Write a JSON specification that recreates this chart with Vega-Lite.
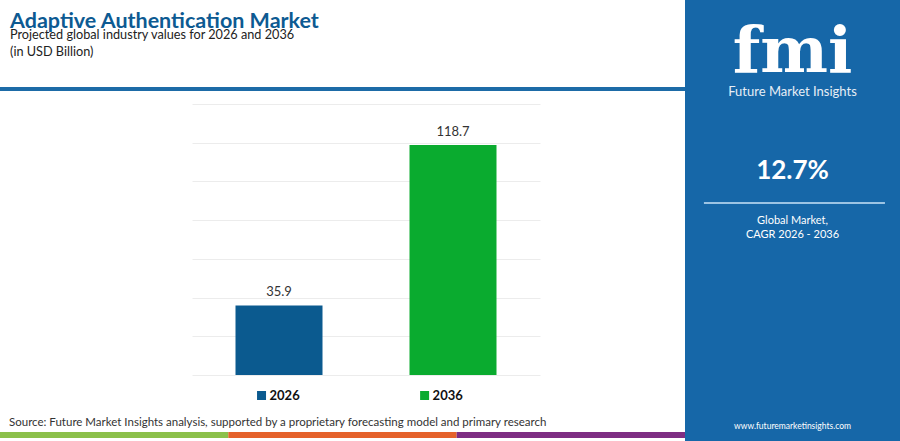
{
  "$schema": "https://vega.github.io/schema/vega-lite/v6.json",
  "padding": 0,
  "background": "#ffffff",
  "spacing": 0,
  "config": {"view": {"stroke": null}, "font": "Lato"},
  "datasets": {
    "market": [
      {"year": "2026", "value": 35.9},
      {"year": "2036", "value": 118.7}
    ],
    "stripe": [{"segment": "left"}, {"segment": "middle"}, {"segment": "right"}],
    "blank": []
  },
  "resolve": {"scale": {"color": "independent"}},
  "hconcat": [
    {
      "spacing": 0,
      "resolve": {"scale": {"color": "independent"}},
      "vconcat": [
        {
          "width": 685,
          "height": 10,
          "data": {"name": "blank"},
          "mark": "text",
          "encoding": {"text": {"field": "label"}}
        },
        {
          "width": 685,
          "height": 4,
          "view": {"fill": "#1d6ba7"},
          "title": {
            "text": "Adaptive Authentication Market",
            "subtitle": ["Projected global industry values for 2026 and 2036", "(in USD Billion)"],
            "anchor": "start",
            "dx": 10,
            "font": "Lato",
            "fontSize": 21.5,
            "fontWeight": "bold",
            "color": "#0d5a92",
            "subtitleFont": "Lato",
            "subtitleFontSize": 12.7,
            "subtitleColor": "#222222",
            "subtitlePadding": -3,
            "subtitleLineHeight": 17,
            "offset": 28
          },
          "data": {"name": "blank"},
          "mark": "text",
          "encoding": {"text": {"field": "label"}}
        },
        {
          "spacing": 0,
          "hconcat": [
            {
              "width": 192,
              "height": 284,
              "data": {"name": "blank"},
              "mark": "text",
              "encoding": {"text": {"field": "label"}}
            },
            {
              "width": 348,
              "height": 284,
              "data": {"name": "market"},
              "encoding": {
                "x": {
                  "field": "year",
                  "type": "nominal",
                  "scale": {"paddingInner": 0.5, "paddingOuter": 0.25},
                  "axis": null
                },
                "y": {
                  "field": "value",
                  "type": "quantitative",
                  "scale": {"domain": [0, 146.6], "nice": false},
                  "axis": {
                    "values": [0, 20, 40, 60, 80, 100, 120, 140],
                    "labels": false,
                    "ticks": false,
                    "domain": false,
                    "title": null,
                    "grid": true,
                    "gridColor": "#ececec",
                    "minExtent": 0,
                    "zindex": 0
                  }
                }
              },
              "layer": [
                {
                  "mark": {"type": "bar"},
                  "encoding": {
                    "color": {
                      "field": "year",
                      "type": "nominal",
                      "scale": {"domain": ["2026", "2036"], "range": ["#0b5a8f", "#0aab2f"]},
                      "legend": null
                    }
                  }
                },
                {
                  "mark": {"type": "text", "baseline": "bottom", "dy": -6, "fontSize": 13, "color": "#333333"},
                  "encoding": {"text": {"field": "value", "type": "quantitative", "format": ".1f"}}
                }
              ]
            },
            {
              "width": 145,
              "height": 284,
              "data": {"name": "blank"},
              "mark": "text",
              "encoding": {"text": {"field": "label"}}
            }
          ]
        },
        {
          "spacing": 0,
          "hconcat": [
            {
              "width": 192,
              "height": 41,
              "data": {"name": "blank"},
              "mark": "text",
              "encoding": {"text": {"field": "label"}}
            },
            {
              "width": 348,
              "height": 41,
              "data": {"name": "market"},
              "encoding": {
                "x": {
                  "field": "year",
                  "type": "nominal",
                  "scale": {"type": "point", "padding": 0.567, "align": 0.376},
                  "axis": null
                }
              },
              "layer": [
                {
                  "mark": {"type": "square", "filled": true, "opacity": 1, "size": 81},
                  "encoding": {
                    "color": {
                      "field": "year",
                      "type": "nominal",
                      "scale": {"domain": ["2026", "2036"], "range": ["#0b5a8f", "#0aab2f"]},
                      "legend": null
                    }
                  }
                },
                {
                  "mark": {"type": "text", "align": "left", "xOffset": 8, "fontSize": 13, "fontWeight": "bold", "color": "#111111"},
                  "encoding": {"text": {"field": "year"}}
                }
              ]
            },
            {
              "width": 145,
              "height": 41,
              "data": {"name": "blank"},
              "mark": "text",
              "encoding": {"text": {"field": "label"}}
            }
          ]
        },
        {
          "width": 685,
          "height": 6,
          "title": {
            "text": "Source: Future Market Insights analysis, supported by a proprietary forecasting model and primary research",
            "anchor": "start",
            "dx": 9,
            "font": "Lato",
            "fontSize": 11.5,
            "fontWeight": "normal",
            "color": "#333333",
            "offset": 4
          },
          "data": {"name": "stripe"},
          "mark": "rect",
          "encoding": {
            "x": {
              "field": "segment",
              "type": "nominal",
              "scale": {"paddingInner": 0, "paddingOuter": 0},
              "axis": null
            },
            "color": {
              "field": "segment",
              "type": "nominal",
              "scale": {"domain": ["left", "middle", "right"], "range": ["#8cc04b", "#e5622b", "#7e2d83"]},
              "legend": null
            }
          }
        }
      ]
    },
    {
      "spacing": 0,
      "bounds": "flush",
      "vconcat": [
        {
          "width": 215,
          "height": 82,
          "view": {"fill": "#1667a8"},
          "data": {"values": [{"label": "fmi"}]},
          "mark": {"type": "text", "font": "DejaVu Serif", "fontSize": 64, "fontWeight": "bold", "color": "#ffffff", "dy": 12},
          "encoding": {"text": {"field": "label"}}
        },
        {
          "width": 215,
          "height": 20,
          "view": {"fill": "#1667a8"},
          "data": {"values": [{"label": "Future Market Insights"}]},
          "mark": {"type": "text", "fontSize": 13, "color": "#e6eef6"},
          "encoding": {"text": {"field": "label"}}
        },
        {
          "width": 215,
          "height": 39,
          "view": {"fill": "#1667a8"},
          "data": {"name": "blank"},
          "mark": "text",
          "encoding": {"text": {"field": "label"}}
        },
        {
          "width": 215,
          "height": 60,
          "view": {"fill": "#1667a8"},
          "data": {"values": [{"label": "12.7%"}]},
          "mark": {"type": "text", "fontSize": 26, "fontWeight": "bold", "color": "#ffffff"},
          "encoding": {"text": {"field": "label"}}
        },
        {
          "width": 215,
          "height": 4,
          "view": {"fill": "#1667a8"},
          "data": {"values": [{"from": 0.088, "to": 0.93}]},
          "mark": {"type": "rule", "color": "#9cc4e4", "strokeWidth": 2},
          "encoding": {
            "x": {"field": "from", "type": "quantitative", "scale": {"domain": [0, 1]}, "axis": null},
            "x2": {"field": "to"}
          }
        },
        {
          "width": 215,
          "height": 45,
          "view": {"fill": "#1667a8"},
          "data": {"values": [{"label": "Global Market,\nCAGR 2026 - 2036"}]},
          "mark": {"type": "text", "fontSize": 11, "lineHeight": 14, "lineBreak": "\n", "dy": -7, "color": "#ffffff"},
          "encoding": {"text": {"field": "label"}}
        },
        {
          "width": 215,
          "height": 160,
          "view": {"fill": "#1667a8"},
          "data": {"name": "blank"},
          "mark": "text",
          "encoding": {"text": {"field": "label"}}
        },
        {
          "width": 215,
          "height": 31,
          "view": {"fill": "#1667a8"},
          "data": {"values": [{"label": "www.futuremarketinsights.com"}]},
          "mark": {"type": "text", "fontSize": 8.5, "color": "#ffffff"},
          "encoding": {"text": {"field": "label"}}
        }
      ]
    }
  ]
}
